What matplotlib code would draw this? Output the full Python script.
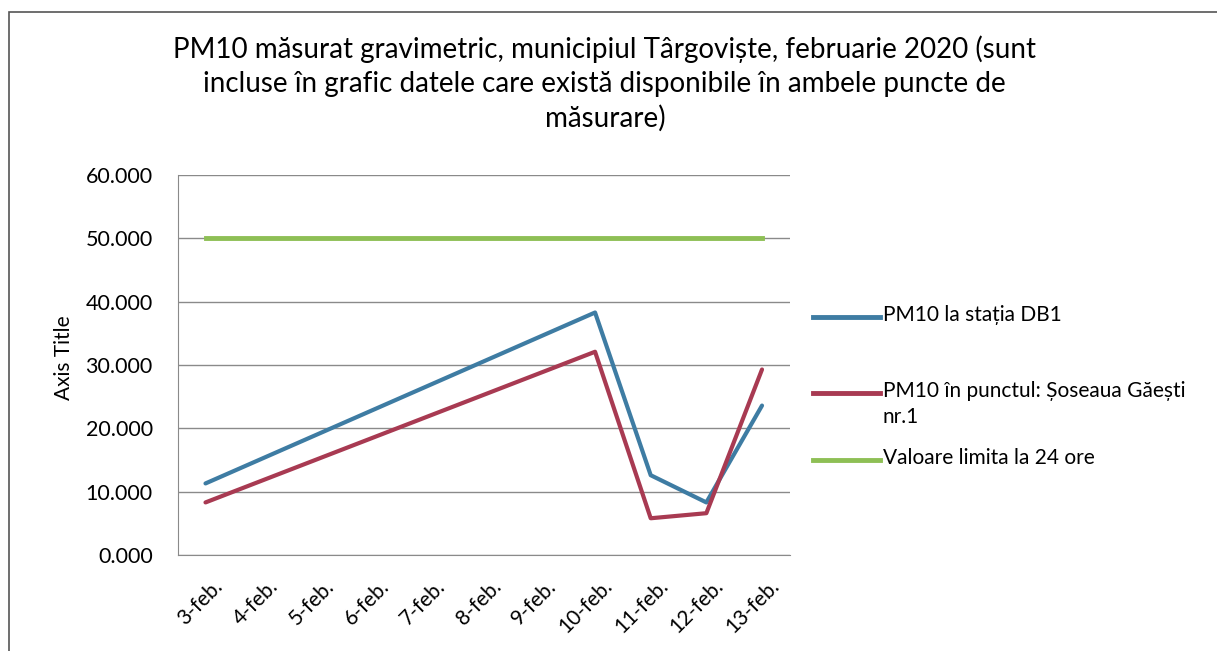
import matplotlib
matplotlib.use("Agg")
import matplotlib.pyplot as plt
from matplotlib.patches import Rectangle
from matplotlib.lines import Line2D
from matplotlib.transforms import ScaledTranslation

plt.rcParams['font.family'] = ['Lato', 'DejaVu Sans']

categories = ["3-feb.", "4-feb.", "5-feb.", "6-feb.", "7-feb.", "8-feb.",
              "9-feb.", "10-feb.", "11-feb.", "12-feb.", "13-feb."]
measured_days = ["3-feb.", "10-feb.", "11-feb.", "12-feb.", "13-feb."]
db1_values = [11.3, 38.3, 12.6, 8.3, 23.6]
gaesti_values = [8.3, 32.1, 5.8, 6.6, 29.3]
limit_values = [50.0] * len(categories)

title = ("PM10 măsurat gravimetric, municipiul Târgoviște, februarie 2020 (sunt\n"
         "incluse în grafic datele care există disponibile în ambele puncte de\n"
         "măsurare)")
labels = ["PM10 la stația DB1",
          "PM10 în punctul: Șoseaua Găești\nnr.1",
          "Valoare limita la 24 ore"]

c_blue = "#3e7ca3"
c_red = "#a83a52"
c_green = "#8ebf55"
colors = [c_blue, c_red, c_green]

W, H = 1217, 651
fig = plt.figure(figsize=(W / 100, H / 100), dpi=100)
ax = fig.add_axes([0.146, 0.1475, 0.503, 0.5835])

pos = {c: i for i, c in enumerate(categories)}
xm = [pos[d] for d in measured_days]
ax.plot(xm, db1_values, color=c_blue, lw=3, solid_capstyle='round', zorder=3)
ax.plot(xm, gaesti_values, color=c_red, lw=3, solid_capstyle='round', zorder=3)
ax.plot(range(len(categories)), limit_values, color=c_green, lw=3.5, zorder=3)

ax.set_xlim(-0.5, len(categories) - 0.5)
ax.set_ylim(0, 60)
ax.set_yticks(range(0, 61, 10))
ax.set_yticklabels([f"{v:.3f}" for v in range(0, 61, 10)], fontsize=15.5)
ax.set_xticks(range(len(categories)))
ax.set_xticklabels(categories, rotation=45, ha='right', rotation_mode='anchor', fontsize=15)
ax.tick_params(axis='x', length=0, pad=15)
ax.tick_params(axis='y', length=0, pad=18)
shift = ScaledTranslation(7 / 100, 0, fig.dpi_scale_trans)
for lbl in ax.get_xticklabels():
    lbl.set_transform(lbl.get_transform() + shift)
ax.grid(axis='y', color='#8a8a8a', lw=1)
ax.set_axisbelow(True)
for s in ['top', 'right']:
    ax.spines[s].set_visible(False)
for s in ['left', 'bottom']:
    ax.spines[s].set_color('#8a8a8a')
ax.set_ylabel("Axis Title", fontsize=15)
ax.yaxis.set_label_coords(-0.17, 0.52)

fig.text(0.497, 0.945, title, ha='center', va='top', fontsize=20, linespacing=1.35)

# legend drawn at the positions seen in the reference
leg_x0, leg_x1, text_x = 813 / W, 880 / W, 883 / W
leg_y = [317, 393, 460]
for col, lab, yy in zip(colors, labels, leg_y):
    yf = 1 - yy / H
    fig.add_artist(Line2D([leg_x0, leg_x1], [yf, yf], transform=fig.transFigure,
                          color=col, lw=3.5))
    fig.text(text_x, yf + 12 / H, lab, ha='left', va='top', fontsize=15, linespacing=1.4)

fig.patches.append(Rectangle((0.007, -0.01), 1.2, 0.992, transform=fig.transFigure,
                             fill=False, edgecolor='#555555', lw=1.2))

fig.savefig("out.png", dpi=100)
